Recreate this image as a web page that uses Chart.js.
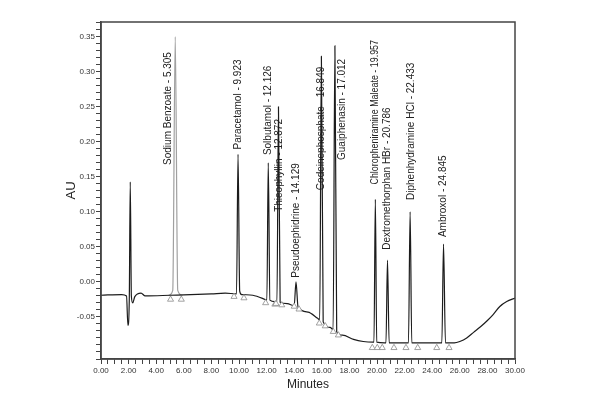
<!DOCTYPE html>
<html>
<head>
<meta charset="utf-8">
<title>Chromatogram</title>
<script src="https://cdn.jsdelivr.net/npm/chart.js@4.4.1/dist/chart.umd.min.js"></script>
<style>
    html, body { margin: 0; padding: 0; background: #fff; }
    canvas { display: block; }
</style>
</head>
<body>
<canvas id="chromChart" width="600" height="400"></canvas>
<script>
// Detector trace (black)
const traceTime = [0.0, 1.5, 1.85, 1.95, 2.05, 2.12, 2.2, 2.3, 2.45, 2.9, 3.2, 5.0, 8.0, 9.0, 9.82, 9.93, 10.05, 10.2,
    11.0, 11.9, 12.02, 12.12, 12.24, 12.6, 12.75, 12.86, 12.98, 13.5, 14.0, 14.13, 14.28, 15.0, 15.7,
    15.85, 15.97, 16.1, 16.6, 16.82, 16.95, 17.08, 17.5, 18.3, 19.0, 19.7, 19.78, 19.88, 19.98, 20.55,
    20.65, 20.76, 20.88, 22.2, 22.28, 22.4, 22.52, 24.6, 24.7, 24.82, 24.96, 25.6, 26.0, 26.5, 27.0,
    27.5, 28.0, 28.4, 28.9, 29.4, 30.0];
const traceAU = [-0.019, -0.018, -0.020, -0.062, -0.025, 0.143, -0.020, -0.030, -0.021, -0.016, -0.020, -0.019, -0.017, -0.016, -0.017, 0.182, -0.013, -0.018,
    -0.019, -0.025, -0.026, 0.170, -0.026, -0.028, -0.029, 0.250, -0.029, -0.031, -0.034, 0.000, -0.036, -0.043, -0.052,
    -0.054, 0.322, -0.057, -0.065, -0.068, 0.337, -0.071, -0.076, -0.082, -0.085, -0.086, -0.086, 0.118, -0.086, -0.087,
    -0.087, 0.031, -0.087, -0.087, -0.087, 0.100, -0.087, -0.087, -0.087, 0.054, -0.087, -0.087, -0.085, -0.080, -0.072,
    -0.064, -0.055, -0.047, -0.035, -0.028, -0.023];

// Sodium Benzoate trace (grey)
const benzoateTime = [4.9, 5.2, 5.38, 5.56, 5.9];
const benzoateAU = [-0.019, -0.012, 0.350, -0.012, -0.019];

// Peak labels
const peakNames = ['Sodium Benzoate - 5.305', 'Paracetamol - 9.923', 'Solbutamol - 12.126', 'Thieophyllin - 12.872',
    'Pseudoephidrine - 14.129', 'Codeinephosphate - 16.849', 'Guaiphenasin - 17.012',
    'Chloropheniramine Maleate - 19.957', 'Dextromethorphan HBr - 20.786', 'Diphenhydramine HCl - 22.433',
    'Ambroxol - 24.845'];
const labelTime = [4.84, 9.93, 12.12, 12.92, 14.15, 15.97, 17.5, 19.88, 20.76, 22.47, 24.82];
const labelAU = [0.167, 0.189, 0.181, 0.100, 0.006, 0.131, 0.174, 0.139, 0.046, 0.117, 0.064];

// Integration start/end markers
const markerTime = [5.04, 5.82, 9.64, 10.36, 11.93, 12.6, 12.68, 13.1, 14.0, 14.35, 15.82, 16.25, 16.83, 17.2,
    19.66, 20.02, 20.38, 21.23, 22.1, 22.95, 24.33, 25.22];
const markerAU = [-0.025, -0.025, -0.021, -0.023, -0.030, -0.032, -0.031, -0.033, -0.035, -0.039, -0.059, -0.063, -0.071, -0.076,
    -0.094, -0.094, -0.094, -0.094, -0.094, -0.094, -0.094, -0.094];

const yMin = -0.11;
const yMax = 0.371;

const toPoints = (xs, ys) => xs.map((x, i) => ({ x: x, y: ys[i] }));

// draw the rotated peak names under the trace
const peakLabels = {
    id: 'peakLabels',
    beforeDatasetsDraw(chart) {
        const { ctx, chartArea, scales: { x, y } } = chart;
        ctx.save();
        ctx.fillStyle = '#222';
        ctx.font = '10px "Liberation Sans", Arial, sans-serif';
        ctx.textAlign = 'left';
        ctx.textBaseline = 'middle';
        peakNames.forEach((name, i) => {
            const py = y.getPixelForValue(labelAU[i]);
            // squeeze long names so they stay clear of the top frame
            const room = py - chartArea.top - 18;
            ctx.save();
            ctx.translate(x.getPixelForValue(labelTime[i]), py);
            ctx.rotate(-Math.PI / 2);
            ctx.fillText(name, 0, 0, room);
            ctx.restore();
        });
        ctx.restore();
    }
};

// close the plot box (top + right)
const plotFrame = {
    id: 'plotFrame',
    afterDraw(chart) {
        const { ctx, chartArea: a } = chart;
        ctx.save();
        ctx.strokeStyle = '#444';
        ctx.lineWidth = 1.5;
        ctx.strokeRect(a.left, a.top, a.right - a.left, a.bottom - a.top);
        ctx.restore();
    }
};

const tickFont = { family: '"Liberation Sans", Arial, sans-serif', size: 8 };

new Chart(document.getElementById('chromChart'), {
    type: 'line',
    data: {
        datasets: [
            {
                label: 'Markers',
                data: toPoints(markerTime, markerAU),
                showLine: false,
                pointStyle: 'triangle',
                pointRadius: 3.5,
                pointBorderWidth: 0.8,
                pointBorderColor: '#8a8a8a',
                pointBackgroundColor: '#fff',
                order: 0
            },
            {
                label: 'Trace',
                data: toPoints(traceTime, traceAU),
                borderColor: '#1c1c1c',
                borderWidth: 1.2,
                pointRadius: 0,
                cubicInterpolationMode: 'monotone',
                order: 1
            },
            {
                label: 'Sodium Benzoate',
                data: toPoints(benzoateTime, benzoateAU),
                borderColor: '#a0a0a0',
                borderWidth: 1.2,
                pointRadius: 0,
                cubicInterpolationMode: 'monotone',
                order: 2
            }
        ]
    },
    options: {
        responsive: false,
        animation: false,
        layout: { padding: { left: 0, top: 22, right: 85, bottom: 0 } },
        plugins: {
            legend: { display: false },
            tooltip: { enabled: false }
        },
        scales: {
            x: {
                type: 'linear',
                min: 0,
                max: 30,
                afterFit: (scale) => { scale.height = 41; },
                grid: { drawOnChartArea: false, tickLength: 5, color: '#444' },
                border: { color: '#444', width: 1.5 },
                ticks: {
                    stepSize: 0.5,
                    autoSkip: false,
                    maxRotation: 0,
                    padding: 2,
                    color: '#333',
                    font: tickFont,
                    callback: (v) => (Math.round(v * 2) % 4 === 0 ? v.toFixed(2) : '')
                },
                title: {
                    display: true,
                    text: 'Minutes',
                    color: '#222',
                    font: { family: '"Liberation Sans", Arial, sans-serif', size: 12 },
                    padding: { top: 0, bottom: 8 }
                }
            },
            y: {
                type: 'linear',
                min: yMin,
                max: yMax,
                afterFit: (scale) => { scale.width = 101; },
                grid: { drawOnChartArea: false, tickLength: 5, color: '#444' },
                border: { color: '#444', width: 1.5 },
                ticks: {
                    stepSize: 0.01,
                    autoSkip: false,
                    padding: 1,
                    color: '#333',
                    font: tickFont,
                    callback: (v) => {
                        const k = Math.round(v * 100);
                        return (k % 5 === 0 && k >= -5 && k <= 35) ? (k / 100).toFixed(2) : '';
                    }
                },
                title: {
                    display: true,
                    text: 'AU',
                    color: '#222',
                    font: { family: '"Liberation Sans", Arial, sans-serif', size: 13 },
                    padding: { top: 64, bottom: 0 }
                }
            }
        }
    },
    plugins: [peakLabels, plotFrame]
});
</script>
</body>
</html>
